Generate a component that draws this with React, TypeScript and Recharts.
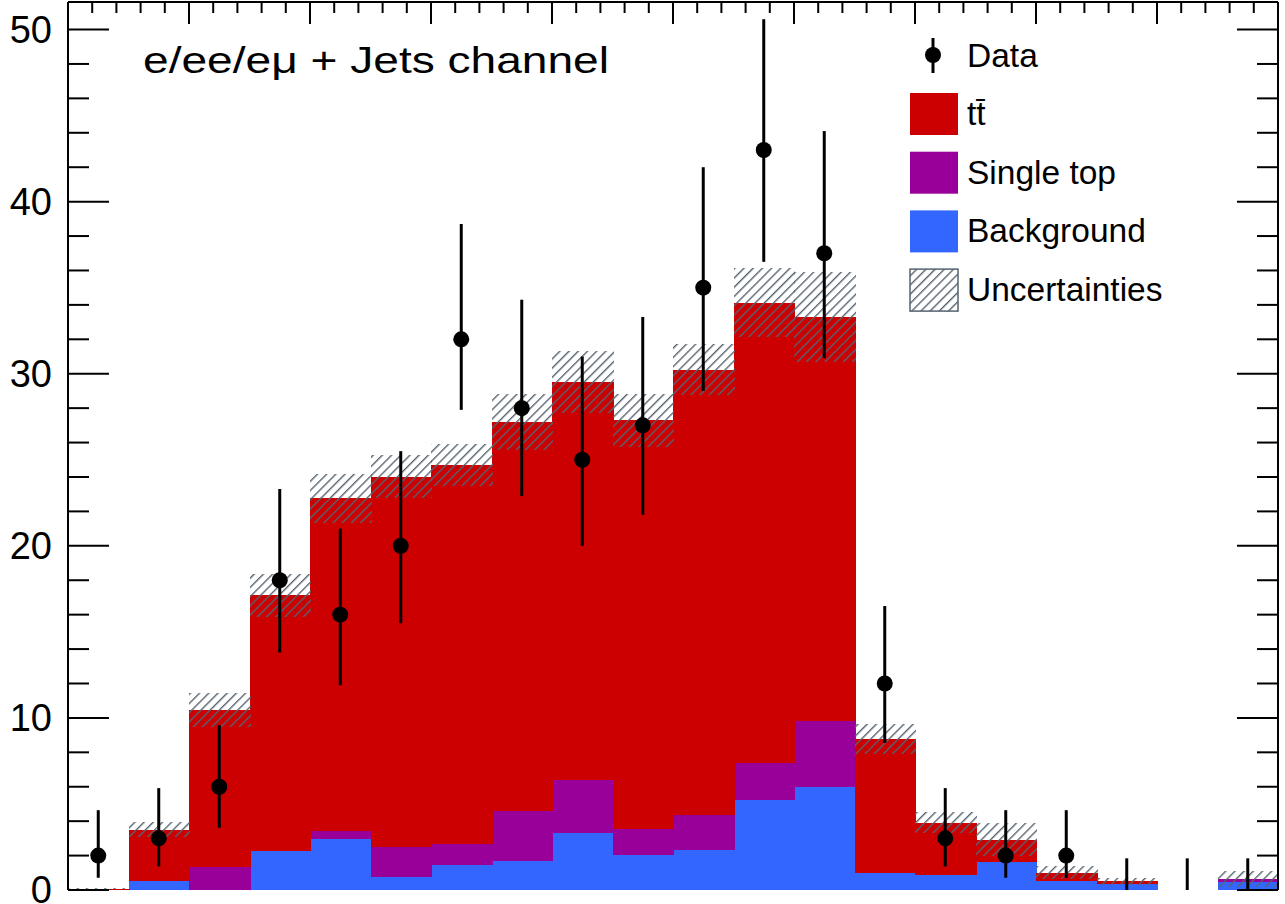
import React from "react";
import { Bar, ComposedChart, ErrorBar, Legend, Line, XAxis, YAxis } from "recharts";

// bin index 0..19 (x axis carries no labels in the original)
const binLabels = ["b0", "b1", "b2", "b3", "b4", "b5", "b6", "b7", "b8", "b9", "b10", "b11", "b12", "b13", "b14", "b15", "b16", "b17", "b18", "b19"];

// stacked expectation, bottom to top
const background = [0, 0.52, 0, 2.25, 2.97, 0.74, 1.44, 1.71, 3.34, 2.06, 2.35, 5.21, 5.97, 0.96, 0.9, 1.6, 0.51, 0.32, 0, 0.45];
const singleTop = [0, 0, 1.34, 0, 0.48, 1.75, 1.26, 2.87, 3.08, 1.51, 2.03, 2.18, 3.87, 0, 0, 0, 0, 0, 0, 0.2];
const ttbar = [0.08, 2.98, 9.13, 14.88, 19.3, 21.51, 22.0, 22.62, 23.08, 23.73, 25.86, 26.74, 23.46, 7.82, 3.01, 1.33, 0.49, 0.19, 0, 0];
// half width of the hatched band around the total
const mcUncertainty = [0.05, 0.43, 1.0, 1.25, 1.4, 1.25, 1.2, 1.65, 1.8, 1.55, 1.5, 2.0, 2.6, 0.89, 0.62, 0.95, 0.38, 0.2, 0, 0.47];

// observed counts and their (asymmetric) error bar ends
const dataCounts = [2, 3, 6, 18, 16, 20, 32, 28, 25, 27, 35, 43, 37, 12, 3, 2, 2, 0, 0, 0];
const dataLow = [0.71, 1.37, 3.62, 13.8, 11.9, 15.5, 27.9, 22.9, 20.0, 21.8, 29.0, 36.5, 30.9, 8.55, 1.37, 0.71, 0.71, 0, 0, 0];
const dataHigh = [4.64, 5.92, 9.58, 23.3, 21.0, 25.5, 38.7, 34.3, 31.0, 33.3, 42.0, 50.6, 44.1, 16.5, 5.92, 4.64, 4.64, 1.84, 1.84, 1.84];

const yTicks = [0, 2, 4, 6, 8, 10, 12, 14, 16, 18, 20, 22, 24, 26, 28, 30, 32, 34, 36, 38, 40, 42, 44, 46, 48, 50];
const xTicks: number[] = [];
for (let i = 0; i <= 50; i++) xTicks.push(+(i * 0.4).toFixed(1));

const RED = "#cc0000";
const PURPLE = "#990099";
const BLUE = "#3366ff";
const HATCH = "#56636f";
const FONT = '"Liberation Sans", Arial, Helvetica, sans-serif';

const rows = binLabels.map((bin, i) => {
  const total = background[i] + singleTop[i] + ttbar[i];
  return {
    bin,
    center: i + 0.5,
    background: background[i],
    singleTop: singleTop[i],
    ttbar: ttbar[i],
    band: [total - mcUncertainty[i], total + mcUncertainty[i]],
    data: dataCounts[i],
    err: [dataCounts[i] - dataLow[i], dataHigh[i] - dataCounts[i]],
  };
});

const legendItems = [
  { name: "tt\u0304", fill: RED },
  { name: "Single top", fill: PURPLE },
  { name: "Background", fill: BLUE },
  { name: "Uncertainties", fill: "url(#hatch-legend)" },
];

// histogram step: fill the whole bin (recharts floors bar widths)
const binShape = (p: any) => (
  <rect x={p.x} y={p.y} width={p.width + 0.5} height={Math.max(p.height, 0)} fill={p.fill} shapeRendering="crispEdges" />
);

const isMajorX = (v: number) => Math.abs(v / 2 - Math.round(v / 2)) < 1e-6;

function LeftTick(props: any) {
  const { x, y, payload } = props;
  const major = payload.value % 10 === 0;
  return (
    <g>
      <line x1={x} x2={x + (major ? 41 : 21)} y1={y} y2={y} stroke="#000" strokeWidth={2} />
      {major && (
        <text x={x - 16} y={y} dy={13} textAnchor="end" fontSize={38} fontFamily={FONT} fill="#000">
          {payload.value}
        </text>
      )}
    </g>
  );
}

function RightTick(props: any) {
  const { x, y, payload } = props;
  const major = payload.value % 10 === 0;
  return <line x1={x} x2={x - (major ? 41 : 21)} y1={y} y2={y} stroke="#000" strokeWidth={2} />;
}

function BottomTick(props: any) {
  const { x, y, payload } = props;
  return <line x1={x} x2={x} y1={y} y2={y - (isMajorX(payload.value) ? 22 : 11)} stroke="#000" strokeWidth={2} />;
}

function TopTick(props: any) {
  const { x, y, payload } = props;
  return <line x1={x} x2={x} y1={y} y2={y + (isMajorX(payload.value) ? 22 : 11)} stroke="#000" strokeWidth={2} />;
}

function DataDot(props: any) {
  const { cx, cy, value, index } = props;
  if (!value) return <g key={`d${index}`} />;
  return <circle key={`d${index}`} cx={cx} cy={cy} r={8} fill="#000" />;
}

function LegendBox() {
  return (
    <svg width={300} height={300} style={{ overflow: "visible" }}>
      <defs>
        <pattern id="hatch-legend" patternUnits="userSpaceOnUse" width={6.5} height={6.5} patternTransform="rotate(45)">
          <rect width={6.5} height={6.5} fill="#fff" />
          <line x1={0} y1={0} x2={0} y2={6.5} stroke={HATCH} strokeWidth={2.8} />
        </pattern>
      </defs>
      <line x1={53} x2={53} y1={18} y2={53} stroke="#000" strokeWidth={3} />
      <circle cx={53} cy={35} r={8} fill="#000" />
      <text x={87} y={47} fontSize={33.5} fontFamily={FONT} fill="#000">Data</text>
      {legendItems.map((item, i) => (
        <g key={item.name}>
          <rect
            x={30}
            y={73 + i * 58.7}
            width={48}
            height={42}
            fill={item.fill}
            stroke={i === 3 ? HATCH : "none"}
            strokeWidth={1.5}
          />
          <text x={87} y={105 + i * 58.7} fontSize={33.5} fontFamily={FONT} fill="#000">
            {item.name}
          </text>
        </g>
      ))}
    </svg>
  );
}

export default function App() {
  return (
    <div style={{ position: "absolute", left: 0, top: 0, width: 1285, height: 904, background: "#fff", fontFamily: FONT }}>
      <ComposedChart
        width={1285}
        height={904}
        data={rows}
        margin={{ top: 0, right: 0, bottom: 0, left: 0 }}
        barCategoryGap={0}
        barGap={0}
      >
        <defs>
          <pattern id="hatch" patternUnits="userSpaceOnUse" width={6.5} height={6.5} patternTransform="rotate(45)">
            <line x1={0} y1={0} x2={0} y2={6.5} stroke={HATCH} strokeWidth={2.8} />
          </pattern>
        </defs>
        <XAxis xAxisId="cat" dataKey="bin" type="category" hide />
        <XAxis xAxisId="band" dataKey="bin" type="category" hide />
        <XAxis
          xAxisId="num"
          dataKey="center"
          type="number"
          domain={[0, 20]}
          ticks={xTicks}
          interval={0}
          allowDataOverflow
          height={14}
          tickSize={0}
          tickMargin={0}
          tickLine={false}
          tick={BottomTick}
          axisLine={{ stroke: "#000", strokeWidth: 2 }}
        />
        <XAxis
          xAxisId="top"
          orientation="top"
          dataKey="center"
          type="number"
          domain={[0, 20]}
          ticks={xTicks}
          interval={0}
          allowDataOverflow
          height={2}
          tickSize={0}
          tickMargin={0}
          tickLine={false}
          tick={TopTick}
          axisLine={{ stroke: "#000", strokeWidth: 2 }}
        />
        <YAxis
          yAxisId="left"
          type="number"
          domain={[0, 51.6]}
          ticks={yTicks}
          interval={0}
          allowDataOverflow
          width={68}
          tickSize={0}
          tickMargin={0}
          tickLine={false}
          tick={LeftTick}
          axisLine={{ stroke: "#000", strokeWidth: 2 }}
        />
        <YAxis
          yAxisId="right"
          orientation="right"
          type="number"
          domain={[0, 51.6]}
          ticks={yTicks}
          interval={0}
          allowDataOverflow
          width={7}
          tickSize={0}
          tickMargin={0}
          tickLine={false}
          tick={RightTick}
          axisLine={{ stroke: "#000", strokeWidth: 2 }}
        />
        <Bar xAxisId="cat" yAxisId="left" dataKey="background" stackId="mc" fill={BLUE} shape={binShape} isAnimationActive={false} />
        <Bar xAxisId="cat" yAxisId="left" dataKey="singleTop" stackId="mc" fill={PURPLE} shape={binShape} isAnimationActive={false} />
        <Bar xAxisId="cat" yAxisId="left" dataKey="ttbar" stackId="mc" fill={RED} shape={binShape} isAnimationActive={false} />
        <Bar xAxisId="band" yAxisId="left" dataKey="band" fill="url(#hatch)" shape={binShape} isAnimationActive={false} />
        <Line
          xAxisId="num"
          yAxisId="left"
          dataKey="data"
          stroke="none"
          dot={DataDot}
          activeDot={false}
          isAnimationActive={false}
        >
          <ErrorBar dataKey="err" direction="y" width={0} stroke="#000" strokeWidth={3} />
        </Line>
        <Line xAxisId="top" yAxisId="right" dataKey="data" stroke="none" dot={false} activeDot={false} legendType="none" isAnimationActive={false} />
        <Legend
          layout="vertical"
          align="center"
          verticalAlign="middle"
          content={() => <LegendBox />}
          wrapperStyle={{ left: 880, top: 20, width: 300, height: 300 }}
        />
      </ComposedChart>
      <svg width={1285} height={904} style={{ position: "absolute", left: 0, top: 0, pointerEvents: "none" }}>
        <text x={143} y={73} fontSize={37} fontFamily={FONT} textLength={466} lengthAdjust="spacingAndGlyphs" fill="#000">
          e/ee/eμ + Jets channel
        </text>
      </svg>
    </div>
  );
}
